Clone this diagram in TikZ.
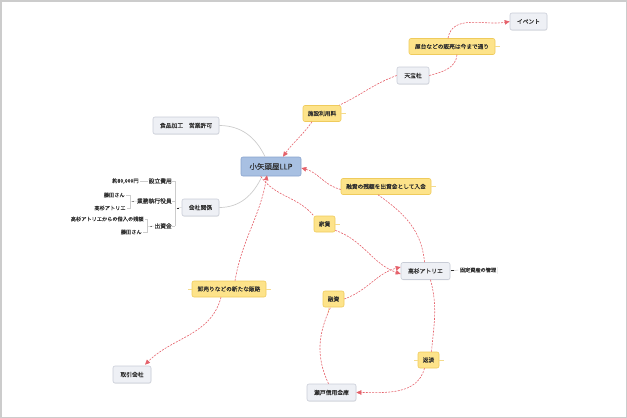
\documentclass[tikz,border=0pt]{standalone}
\usepackage{fontspec}
\newfontfamily\cjk{Noto Sans CJK JP}[FakeBold=0.2]
\usetikzlibrary{arrows.meta,shadows}
\definecolor{gf}{HTML}{EEF0F5}
\definecolor{gb}{HTML}{C9CDD7}
\definecolor{yf}{HTML}{FDE38A}
\definecolor{yb}{HTML}{EFCB5C}
\definecolor{bf}{HTML}{A8C0E2}
\definecolor{bb}{HTML}{88A3CD}
\definecolor{rl}{HTML}{E5626B}
\definecolor{lg}{HTML}{CCCCCC}
\definecolor{tx}{HTML}{2E2E2E}
\tikzset{
  gnode/.style={draw=gb, fill=gf, rounded corners=2pt, inner sep=0pt, minimum height=17pt,
    font=\cjk\fontsize{5.8}{7}\selectfont, text=tx, line width=0.6pt,
    drop shadow={opacity=0.12, shadow xshift=0.4pt, shadow yshift=-0.8pt}},
  ynode/.style={draw=yb, fill=yf, rounded corners=2pt, inner sep=0pt, minimum height=16pt,
    font=\cjk\fontsize{5.7}{7}\selectfont, text=tx, line width=0.6pt},
  bnode/.style={draw=bb, fill=bf, rounded corners=2pt, inner sep=0pt, minimum height=19pt,
    font=\cjk\fontsize{7.5}{9}\selectfont, text=tx, line width=0.6pt},
  subnode/.style={inner sep=0pt, font=\cjk\fontsize{5.8}{7}\selectfont, text=tx},
  leaf/.style={inner sep=1.2pt, font=\cjk\fontsize{5.2}{6}\selectfont, text=tx, fill=white,
    drop shadow={opacity=0.15, shadow xshift=0.5pt, shadow yshift=-0.6pt, fill=gray}},
  rel/.style={draw=rl, dashed, dash pattern=on 2pt off 1.2pt, line width=0.6pt},
  relarr/.style={rel, -{Triangle[length=5pt,width=4.5pt]}},
  gline/.style={draw=lg, line width=0.7pt},
  thinline/.style={draw=lg, line width=0.5pt},
  stub/.style={draw=yb!70, line width=0.6pt},
  minusmark/.style={draw=tx, line width=0.5pt},
}
\begin{document}
\begin{tikzpicture}[x=1pt,y=-1pt]
\useasboundingbox (0,0) rectangle (627,418);
\draw[lg, line width=1.5pt] (0.75,0.75) rectangle (626.25,417.25);

% nodes
\node[bnode, minimum width=60pt] (llp) at (271,166.5) {小矢頭屋LLP};
\node[gnode, minimum width=37pt] (event) at (528.5,21.5) {イベント};
\node[ynode, minimum width=86pt] (yatai) at (452,46.5) {屋台などの販売は今まで通り};
\node[gnode, minimum width=32pt] (tenpo) at (413,75.5) {天宝社};
\node[ynode, minimum width=38pt] (shisetsu) at (322,113.5) {施設利用料};
\node[ynode, minimum width=90pt] (zangaku) at (386,186.5) {融資の残額を出資金として入金};
\node[ynode, minimum width=21pt] (yachin) at (324.5,224) {家賃};
\node[gnode, minimum width=49pt] (taka) at (425.5,271) {高杉アトリエ};
\node[leaf] (kotei) at (478,270) {固定資産の管理};
\node[ynode, minimum width=21pt] (yushi) at (333.5,299) {融資};
\node[ynode, minimum width=21pt] (hensai) at (428.5,360) {返済};
\node[gnode, minimum width=49pt] (seto) at (331.5,392.5) {瀬戸信用金庫};
\node[ynode, minimum width=74pt] (oroshi) at (229,289) {卸売りなどの新たな販路};
\node[gnode, minimum width=38pt] (tori) at (132,374.5) {取引会社};
\node[gnode, minimum width=66pt] (shoku) at (186,125.5) {食品加工\quad 営業許可};
\node[gnode, minimum width=37pt] (kaisha) at (200.5,207.5) {会社関係};

% 会社関係 subtree
\node[subnode, anchor=east] (setsu) at (172,181) {設立費用};
\node[subnode, anchor=east] (gyomu) at (172,201) {業務執行役員};
\node[subnode, anchor=east] (shusshi) at (172,226) {出資金};
\node[leaf, anchor=east] (yaku) at (140,181) {約80,000円};
\node[leaf, anchor=east] (fuji1) at (126,195) {藤田さん};
\node[leaf, anchor=east] (taka2) at (127,208) {高杉アトリエ};
\node[leaf, anchor=east] (kari) at (145,219) {高杉アトリエからの借入の残額};
\node[leaf, anchor=east] (fuji2) at (143,232) {藤田さん};

\coordinate (km) at (178,208);
\draw[thinline] (kaisha.west) -- (km);
\draw[minusmark] (176.5,208) -- (178.5,208);
\draw[thinline] (175,181) -- (175,226);
\draw[thinline] (setsu.east) -- (175,181);
\draw[thinline] (gyomu.east) -- (175,201);
\draw[thinline] (shusshi.east) -- (175,226);
\draw[minusmark] (144,181.5) -- (146,181.5);
\draw[thinline] (yaku.east) -- (setsu.west);
\draw[minusmark] (132,201.5) -- (134,201.5);
\draw[thinline] (fuji1.east) -- (130,195) -- (130,208) -- (taka2.east);
\draw[thinline] (130,201.5) -- (gyomu.west);
\draw[minusmark] (149.5,226.5) -- (151.5,226.5);
\draw[thinline] (kari.east) -- (147.5,219) -- (147.5,232) -- (fuji2.east);
\draw[thinline] (147.5,226.5) -- (shusshi.west);

% 固定資産 marker
\draw[thinline] (taka.east) -- (kotei.west);
\draw[minusmark] (451,270.5) -- (453.5,270.5);

% gray connectors
\draw[gline] (shoku.east) to[out=0,in=115] ([xshift=-6pt]llp.north);
\draw[gline] (kaisha.east) to[out=0,in=-115] ([xshift=-9pt]llp.south);

% label stubs
\draw[stub] (shisetsu.east) -- ++(5,0);
\draw[stub] (zangaku.east) -- ++(5,0);
\draw[stub] (yachin.east) -- ++(5,0);
\draw[stub] (hensai.east) -- ++(5,0);
\draw[stub] (hensai.west) -- ++(-4,0);
\draw[stub] (oroshi.east) -- ++(5,0);
\draw[stub] (oroshi.west) -- ++(-4,0);
\draw[stub] ([xshift=-4.5pt]yushi.south) -- ++(-1,6);
\draw[stub] (yatai.east) -- ++(5,0);

% red relations
\draw[rel] (tenpo.west) to[out=200,in=25] ([xshift=-2pt]shisetsu.north east);
\draw[relarr] ([xshift=-10pt]shisetsu.south) to[out=-125,in=55] ([xshift=12pt]llp.north);

\draw[rel] (tenpo.east) to[out=15,in=-95] ([xshift=5pt]yatai.south);
\draw[relarr] ([xshift=-4pt]yatai.north) to[out=80,in=190] (event.west);

\draw[rel] ([xshift=-1pt]taka.north) to[out=95,in=-35] ([xshift=-8pt]zangaku.south);
\draw[relarr] ([yshift=-3pt]zangaku.west) to[out=165,in=-15] ([yshift=-1.5pt]llp.east);

\draw[rel] ([xshift=20pt]llp.south west) to[out=-55,in=130] (yachin.north west);
\draw[relarr] ([yshift=2pt]yachin.south east) to[out=-20,in=160] ([yshift=-3pt]taka.west);

\draw[rel] ([xshift=-3pt]seto.north) to[out=115,in=-115] ([xshift=-3pt]yushi.south);
\draw[relarr] (yushi.east) to[out=20,in=195] ([yshift=4pt]taka.west);

\draw[rel] ([xshift=5pt]taka.south) to[out=-75,in=85] ([xshift=3pt]hensai.north);
\draw[relarr] ([xshift=-4pt]hensai.south) to[out=-105,in=0] (seto.east);

\draw[relarr] ([xshift=6pt]oroshi.north) to[out=80,in=-100] ([xshift=-4pt,yshift=1pt]llp.south);
\draw[relarr] ([xshift=-8pt]oroshi.south) to[out=-105,in=45] ([xshift=13pt,yshift=1pt]tori.north);
\end{tikzpicture}
\end{document}
